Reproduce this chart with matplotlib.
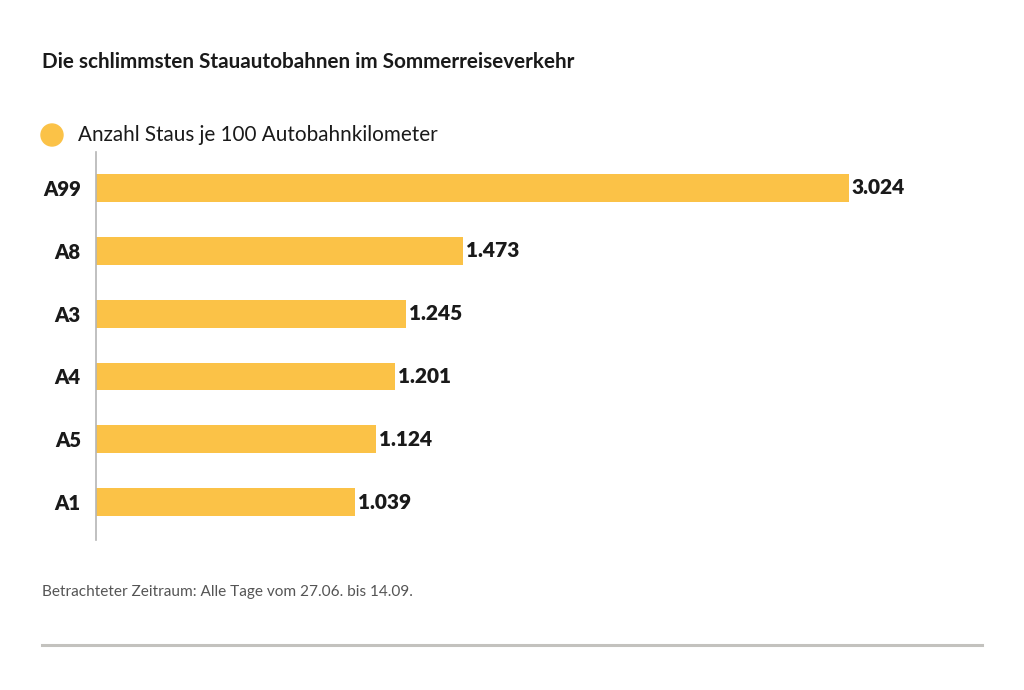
import matplotlib.pyplot as plt
from matplotlib.lines import Line2D
from matplotlib.patches import Ellipse

plt.rcParams['font.family'] = ['Lato', 'DejaVu Sans']

# Daten
strecken = ['A99', 'A8', 'A3', 'A4', 'A5', 'A1']
staus = [3024, 1473, 1245, 1201, 1124, 1039]

titel = 'Die schlimmsten Stauautobahnen im Sommerreiseverkehr'
legende = 'Anzahl Staus je 100 Autobahnkilometer'
fussnote = 'Betrachteter Zeitraum: Alle Tage vom 27.06. bis 14.09.'

gelb = '#fbc247'
text_farbe = '#1a1a1a'

fig = plt.figure(figsize=(10.24, 6.9), dpi=100)
fig.patch.set_facecolor('white')
ax = fig.add_axes([0.0938, 0.2174, 0.866, 0.5623])

y = list(range(len(strecken)))
ax.barh(y, staus, height=0.445, color=gelb, zorder=2)
ax.set_ylim(5.6, -0.57)
ax.set_xlim(0, max(staus) * 1.178)

for yi, v in zip(y, staus):
    label = f'{v:,}'.replace(',', '.')
    ax.text(v + max(staus) * 0.004, yi, label, va='center', ha='left',
            fontsize=15, fontweight='heavy', color=text_farbe)

ax.set_yticks(y)
ax.set_yticklabels(strecken, fontsize=14.6, fontweight='heavy', color=text_farbe)
ax.tick_params(axis='y', length=0, pad=11)
ax.set_xticks([])
for s in ['top', 'right', 'bottom']:
    ax.spines[s].set_visible(False)
ax.spines['left'].set_color('#b5b5b5')
ax.spines['left'].set_linewidth(1.2)

fig.text(0.041, 1 - 62 / 690, titel, fontsize=14.85, fontweight='bold',
         color=text_farbe, va='center', ha='left')

# Legende
fig.patches.append(Ellipse((52 / 1024, 1 - 135 / 690), 22 / 1024, 22 / 690,
                           transform=fig.transFigure, color=gelb))
fig.text(78 / 1024, 1 - 135 / 690, legende, fontsize=14.9, color=text_farbe,
         va='center', ha='left')

fig.text(0.041, 1 - 592 / 690, fussnote, fontsize=11.1, color='#555555',
         va='center', ha='left')

fig.lines.append(Line2D([42 / 1024, 982 / 1024], [1 - 645 / 690, 1 - 645 / 690],
                        transform=fig.transFigure, color='#c3c2be', lw=2.2))

plt.savefig('out.png', dpi=100, facecolor='white')
